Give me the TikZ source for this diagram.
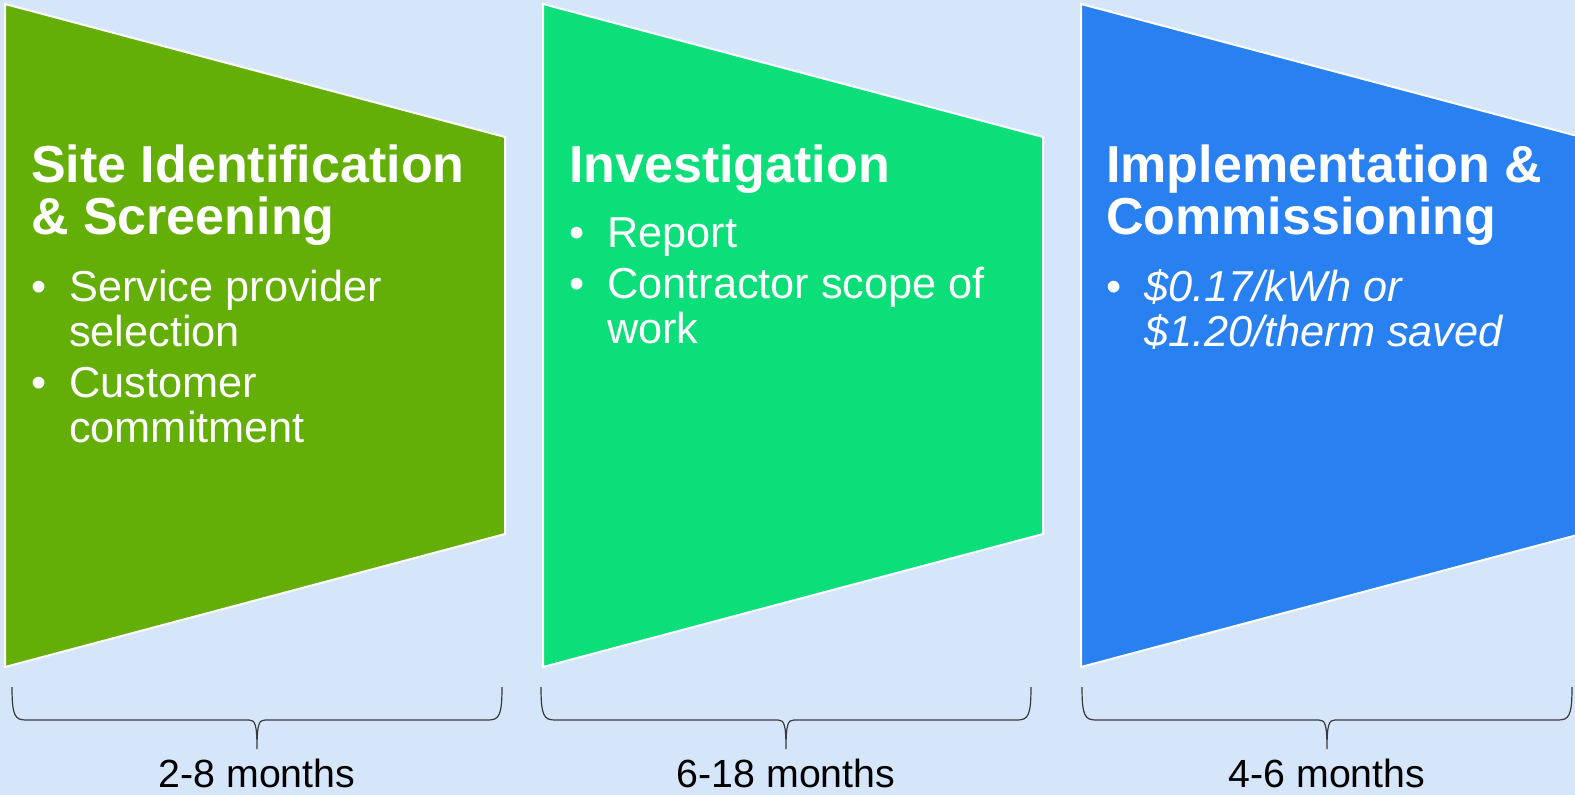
\documentclass[tikz,border=0pt]{standalone}
\usepackage{fontspec}
\setmainfont{Liberation Sans}
\usetikzlibrary{positioning}

\definecolor{paper}{HTML}{D5E5FA}
\definecolor{siteGreen}{HTML}{63AF07}
\definecolor{investGreen}{HTML}{0CDE79}
\definecolor{implBlue}{HTML}{2980F0}
\definecolor{braceGray}{HTML}{3A3A3A}

\begin{document}
\begin{tikzpicture}[x=1pt,y=-1pt,
    panel/.style={draw=white,line width=2pt},
    title/.style={anchor=base west,inner sep=0pt,text=white,
                  font=\fontsize{52}{50}\selectfont\bfseries},
    body/.style={anchor=base west,inner sep=0pt,text=white,
                 font=\fontsize{43.3}{45}\selectfont},
    brace/.style={draw=braceGray,line width=1.2pt},
    span/.style={anchor=base,inner sep=0pt,font=\fontsize{39.3}{40}\selectfont}]

  \fill[paper] (0,0) rectangle (1575,795);
  \useasboundingbox (0,0) rectangle (1575,795);

  % the three phases
  \foreach \x/\c in {5/siteGreen,543/investGreen,1081/implBlue}
    \filldraw[panel,fill=\c] (\x,4) -- (\x+500,137) -- (\x+500,534) -- (\x,667) -- cycle;

  \node[title] (T1) at (31,182)   {\begin{tabular}[t]{@{}l@{}}Site Identification\\ \& Screening\end{tabular}};
  \node[title] (T2) at (569,182)  {Investigation};
  \node[title] (T3) at (1106,182) {\begin{tabular}[t]{@{}l@{}}Implementation \&\\ Commissioning\end{tabular}};

  \node[body] (B1) at (31,301)   {\begin{tabular}[t]{@{}p{38pt}@{}l@{}}\textbullet & Service provider\\ & selection\\[6pt]
                                   \textbullet & Customer\\ & commitment\end{tabular}};
  \node[body] (B2) at (569,247)  {\begin{tabular}[t]{@{}p{38pt}@{}l@{}}\textbullet & Report\\[6pt]
                                   \textbullet & Contractor scope of\\ & work\end{tabular}};
  \node[body] (B3) at (1106,301) {\begin{tabular}[t]{@{}p{38pt}@{}l@{}}\textbullet & \itshape \$0.17/kWh or\\
                                   & \itshape \$1.20/therm saved\end{tabular}};

  % durations
  \foreach \x/\lab [count=\i] in {12/2-8 months,541/6-18 months,1082/4-6 months}{
    \coordinate (tip\i) at (\x+245,749);
    \draw[brace] (\x,687) .. controls (\x,716) and (\x+3,720) .. (\x+14,720)
      -- (\x+237,720) .. controls (\x+243,720) and (tip\i|-0,724) .. (tip\i)
      .. controls (tip\i|-0,724) and (\x+247,720) .. (\x+253,720)
      -- (\x+476,720) .. controls (\x+487,720) and (\x+490,716) .. (\x+490,687);
    \node[span] (len\i) at (\x+245,787) {\lab};
  }

\end{tikzpicture}
\end{document}
